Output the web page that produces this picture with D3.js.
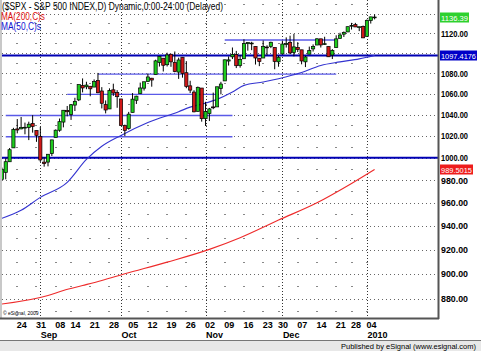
<!DOCTYPE html>
<html>
<head>
<meta charset="utf-8">
<script src="https://cdn.jsdelivr.net/npm/d3@7"></script>
<style>
  body { margin: 0; background: #fff; }
  svg { display: block; font-family: "Liberation Sans", Arial, sans-serif; }
</style>
</head>
<body>
<script>
'use strict';

// trading days shown on the chart
const dates = [
  "2009-08-18","2009-08-19","2009-08-20","2009-08-21","2009-08-24","2009-08-25","2009-08-26","2009-08-27","2009-08-28","2009-08-31",
  "2009-09-01","2009-09-02","2009-09-03","2009-09-04","2009-09-08","2009-09-09","2009-09-10","2009-09-11","2009-09-14","2009-09-15",
  "2009-09-16","2009-09-17","2009-09-18","2009-09-21","2009-09-22","2009-09-23","2009-09-24","2009-09-25","2009-09-28","2009-09-29",
  "2009-09-30","2009-10-01","2009-10-02","2009-10-05","2009-10-06","2009-10-07","2009-10-08","2009-10-09","2009-10-12","2009-10-13",
  "2009-10-14","2009-10-15","2009-10-16","2009-10-19","2009-10-20","2009-10-21","2009-10-22","2009-10-23","2009-10-26","2009-10-27",
  "2009-10-28","2009-10-29","2009-10-30","2009-11-02","2009-11-03","2009-11-04","2009-11-05","2009-11-06","2009-11-09","2009-11-10",
  "2009-11-11","2009-11-12","2009-11-13","2009-11-16","2009-11-17","2009-11-18","2009-11-19","2009-11-20","2009-11-23","2009-11-24",
  "2009-11-25","2009-11-27","2009-11-30","2009-12-01","2009-12-02","2009-12-03","2009-12-04","2009-12-07","2009-12-08","2009-12-09",
  "2009-12-10","2009-12-11","2009-12-14","2009-12-15","2009-12-16","2009-12-17","2009-12-18","2009-12-21","2009-12-22","2009-12-23",
  "2009-12-24","2009-12-28","2009-12-29","2009-12-30","2009-12-31","2010-01-04","2010-01-05","2010-01-06"
];

const open = [
  980.62,986.88,996.41,1009.06,1026.59,1026.63,1027.35,1027.81,1031.62,1025.21,
  1019.52,996.07,996.12,1003.84,1018.67,1025.36,1032.99,1043.92,1040.15,1049.03,
  1053.99,1067.87,1066.60,1067.14,1066.35,1072.69,1062.56,1049.48,1045.38,1063.69,
  1061.02,1054.91,1029.71,1026.87,1042.02,1053.65,1060.03,1065.28,1071.63,1074.96,
  1078.68,1090.36,1094.67,1088.22,1098.64,1090.36,1080.96,1095.62,1080.36,1067.54,
  1061.51,1043.00,1065.41,1036.18,1040.92,1047.30,1047.30,1064.95,1072.31,1091.86,
  1096.04,1098.31,1087.59,1094.13,1109.22,1109.44,1106.44,1094.66,1094.86,1105.83,
  1106.49,1105.47,1091.07,1098.89,1109.03,1110.59,1100.43,1105.52,1103.04,1091.07,
  1098.69,1103.96,1107.84,1114.11,1108.61,1106.36,1097.86,1105.31,1114.51,1118.84,
  1121.08,1127.53,1128.55,1125.53,1126.60,1116.56,1132.66,1135.71
];
const high = [
  991.20,999.61,1008.92,1027.59,1035.82,1037.75,1032.47,1033.33,1039.47,1025.21,
  1028.45,1000.34,1003.43,1016.48,1026.07,1036.34,1044.14,1048.18,1049.74,1056.04,
  1068.76,1074.77,1071.52,1067.28,1073.81,1080.15,1066.29,1053.47,1065.13,1069.62,
  1063.40,1054.91,1030.60,1042.58,1060.55,1058.02,1070.67,1071.51,1079.46,1075.30,
  1093.17,1096.56,1094.67,1100.17,1098.64,1101.36,1095.21,1095.83,1091.75,1072.48,
  1063.26,1066.83,1065.41,1052.18,1046.36,1061.00,1066.65,1071.48,1093.19,1096.42,
  1105.37,1101.97,1097.79,1113.69,1110.52,1111.10,1106.44,1094.66,1112.38,1107.56,
  1111.18,1105.47,1097.24,1112.28,1115.58,1117.28,1119.13,1110.72,1103.04,1097.04,
  1106.25,1108.50,1114.76,1114.11,1116.21,1106.36,1103.74,1117.68,1120.27,1121.58,
  1126.48,1130.38,1130.38,1126.42,1127.64,1133.87,1136.63,1139.19
];
const low = [
  980.62,980.62,996.39,1009.06,1022.48,1026.21,1021.57,1016.20,1023.13,1014.62,
  996.28,991.97,992.25,1001.65,1018.67,1023.97,1028.04,1038.40,1035.00,1043.42,
  1052.87,1061.20,1064.27,1057.46,1066.35,1060.39,1045.85,1041.17,1045.38,1057.83,
  1046.47,1029.45,1019.95,1025.92,1042.02,1050.10,1060.03,1063.00,1071.63,1066.71,
  1078.68,1086.41,1081.53,1086.48,1086.16,1080.77,1074.31,1075.49,1065.23,1060.62,
  1042.19,1043.00,1033.38,1029.38,1033.94,1045.15,1047.30,1059.32,1072.31,1087.40,
  1093.81,1084.90,1085.33,1094.13,1102.19,1102.70,1088.40,1086.81,1094.86,1097.63,
  1104.75,1083.74,1086.25,1098.89,1105.29,1098.74,1096.52,1100.83,1088.61,1085.89,
  1098.69,1101.34,1107.84,1105.35,1107.96,1095.88,1093.88,1105.31,1114.51,1116.00,
  1121.08,1123.51,1126.08,1121.94,1114.81,1116.56,1129.66,1133.95
];
const close = [
  989.67,996.46,1007.37,1026.13,1025.57,1028.00,1028.12,1030.98,1028.93,1020.62,
  998.04,994.75,1003.24,1016.40,1025.39,1033.37,1044.14,1042.73,1049.34,1052.63,
  1068.76,1065.49,1068.30,1064.66,1071.66,1060.87,1050.78,1044.38,1062.98,1060.61,
  1057.08,1029.85,1025.21,1040.46,1054.72,1057.58,1065.48,1071.49,1076.19,1073.19,
  1092.02,1096.56,1087.68,1097.91,1091.06,1081.40,1092.91,1079.60,1066.95,1063.41,
  1042.63,1066.11,1036.19,1042.88,1045.41,1046.50,1066.63,1069.30,1093.08,1093.01,
  1098.51,1087.24,1093.48,1109.30,1110.32,1109.80,1094.90,1091.38,1106.24,1105.65,
  1110.63,1091.49,1095.63,1108.86,1109.24,1099.92,1105.98,1103.25,1091.94,1095.95,
  1102.35,1106.41,1114.11,1107.93,1109.18,1096.08,1102.47,1114.05,1118.02,1120.59,
  1126.48,1127.78,1126.20,1126.42,1115.10,1132.99,1136.52,1136.39
];

// moving averages
const ma50Dates = ["2009-08-18","2009-08-25","2009-09-01","2009-09-11","2009-09-18","2009-09-24","2009-10-01",
  "2009-10-12","2009-10-22","2009-10-27","2009-11-02","2009-11-05","2009-11-11","2009-11-16","2009-11-23",
  "2009-11-30","2009-12-08","2009-12-15","2009-12-22","2009-12-30","2010-01-06"];
const ma50Values = [946.5,953.4,964.7,978.0,998.5,1010.5,1020.5,1032.5,1042.8,1047.1,1050.9,1054.5,1061.5,
  1068.0,1071.3,1074.5,1080.5,1087.5,1091.0,1094.0,1097.4];

const ma200Dates = ["2009-08-18","2009-09-03","2009-09-10","2009-09-17","2009-09-24","2009-10-02","2009-10-19",
  "2009-11-03","2009-11-13","2009-11-30","2009-12-14","2009-12-28","2010-01-06"];
const ma200Values = [875.6,882.4,886.5,890.5,894.6,900.0,909.6,920.2,930.0,945.0,960.0,977.0,989.5];

// horizontal lines drawn on the chart (null = across the whole plot)
const lineValues = [1112.9, 1097.4, 1079.0, 1059.3, 1039.2, 1019.3, 1000.0];
const lineFrom   = ["2009-11-09", null, "2009-09-23", "2009-09-11", "2009-08-19", "2009-08-19", null];
const lineTo     = ["2009-12-21", null, "2009-12-21", "2009-11-05", "2009-11-11", "2009-11-11", null];

// axis labels
const weekDates  = ["2009-08-24","2009-08-31","2009-09-08","2009-09-14","2009-09-21","2009-09-28","2009-10-05",
  "2009-10-12","2009-10-19","2009-10-26","2009-11-02","2009-11-09","2009-11-16","2009-11-23","2009-11-30",
  "2009-12-07","2009-12-14","2009-12-21","2009-12-28","2010-01-04"];
const weekLabels = ["24","31","08","14","21","28","05","12","19","26","02","09","16","23","30","07","14","21","28","04"];
const monthDates  = ["2009-09-01","2009-10-01","2009-11-02","2009-12-01","2010-01-04"];
const monthLabels = ["Sep","Oct","Nov","Dec","2010"];
const priceTicks = [880,900,920,940,960,980,1000,1020,1040,1060,1080,1100,1120,1140];
const minorTicks = [870,890,910,930,950,970,990,1010,1030,1050,1070,1090,1110,1130,1150];

const lastPrice = 1136.39, ma50Last = 1097.4176, ma200Last = 989.5015;

const W = 481, H = 351;
const plotL = 2, plotR = 438, plotT = 0, plotB = 318;

const svg = d3.select("body").append("svg").attr("width", W).attr("height", H);

const idx = d => dates.indexOf(d);
const x = d3.scaleLinear().domain([0, dates.length - 1]).range([1.9, 374.6]);
const y = d3.scaleLog().domain([864.6, 1152]).range([plotB, 2]);

svg.append("rect").attr("width", W).attr("height", H).attr("fill", "#fff");

svg.append("defs").append("clipPath").attr("id", "clip")
  .append("rect").attr("x", plotL).attr("y", plotT).attr("width", plotR - plotL).attr("height", plotB - plotT);

const plot = svg.append("g").attr("clip-path", "url(#clip)");

// grid
plot.selectAll(".hgrid").data(priceTicks).enter().append("line")
  .attr("x1", plotL).attr("x2", plotR)
  .attr("y1", d => Math.round(y(d)) + 0.5).attr("y2", d => Math.round(y(d)) + 0.5)
  .style("stroke", "#666").style("stroke-dasharray", "1,3");

plot.selectAll(".vgrid").data(monthDates).enter().append("line")
  .attr("x1", d => Math.round(x(idx(d))) + 0.5).attr("x2", d => Math.round(x(idx(d))) + 0.5)
  .attr("y1", plotT).attr("y2", plotB)
  .style("stroke", "#333").style("stroke-dasharray", "1,2");

const dots = [];
minorTicks.forEach(v => weekDates.forEach(d => dots.push([d, v])));
plot.selectAll(".dot").data(dots).enter().append("rect")
  .attr("x", d => Math.round(x(idx(d[0]))) - 1).attr("y", d => Math.round(y(d[1])))
  .attr("width", 2).attr("height", 1).style("fill", "#888");

// drawn horizontal lines
lineValues.forEach((v, i) => {
  const full = lineFrom[i] === null;
  plot.append("line")
    .attr("x1", full ? plotL : x(idx(lineFrom[i])))
    .attr("x2", full ? plotR : x(idx(lineTo[i])))
    .attr("y1", y(v)).attr("y2", y(v))
    .style("stroke", full ? "#0000b4" : "#5a5ae8")
    .style("stroke-width", full ? 2 : 1.4);
});

// moving averages
const maLine = (ds, vs) => d3.line().curve(d3.curveMonotoneX)
  .x((d, i) => x(idx(ds[i]))).y((d, i) => y(vs[i]))(vs);

plot.append("path").attr("d", maLine(ma200Dates, ma200Values))
  .style("fill", "none").style("stroke", "#ee2a2a").style("stroke-width", 1.1);
plot.append("path").attr("d", maLine(ma50Dates, ma50Values))
  .style("fill", "none").style("stroke", "#3434d0").style("stroke-width", 1.1);

// candles
const candles = plot.selectAll(".candle").data(dates).enter().append("g");
candles.append("line")
  .attr("x1", (d, i) => x(i)).attr("x2", (d, i) => x(i))
  .attr("y1", (d, i) => y(high[i])).attr("y2", (d, i) => y(low[i]))
  .style("stroke", "#000").style("stroke-width", 1);
candles.append("rect")
  .attr("x", (d, i) => x(i) - 1.6).attr("width", 3.2)
  .attr("y", (d, i) => y(Math.max(open[i], close[i])))
  .attr("height", (d, i) => Math.max(0.8, y(Math.min(open[i], close[i])) - y(Math.max(open[i], close[i]))))
  .style("fill", (d, i) => close[i] >= open[i] ? "#1ecb1e" : "#d01818")
  .style("stroke", "#000").style("stroke-width", 0.7);

// frame
svg.append("rect").attr("x", 0).attr("y", 0).attr("width", 2).attr("height", plotB).attr("fill", "#c8c8c8");
svg.append("line").attr("x1", plotR + 0.5).attr("x2", plotR + 0.5).attr("y1", 0).attr("y2", plotB + 1)
  .style("stroke", "#555").style("stroke-width", 2);
svg.append("line").attr("x1", 0).attr("x2", plotR + 1).attr("y1", plotB + 0.5).attr("y2", plotB + 0.5)
  .style("stroke", "#555").style("stroke-width", 2);

// title and legend
svg.append("text").attr("x", 2).attr("y", 10).attr("textLength", 221).attr("lengthAdjust", "spacingAndGlyphs")
  .style("font-size", "10px").style("fill", "#000").text("($SPX - S&P 500 INDEX,D) Dynamic,0:00-24:00 (Delayed)");
svg.append("text").attr("x", 1).attr("y", 20).attr("textLength", 44).attr("lengthAdjust", "spacingAndGlyphs")
  .style("font-size", "10px").style("fill", "#e01010").text("MA(200,C)s");
svg.append("text").attr("x", 1).attr("y", 30).attr("textLength", 40).attr("lengthAdjust", "spacingAndGlyphs")
  .style("font-size", "10px").style("fill", "#1010d0").text("MA(50,C)s");
svg.append("text").attr("x", 3).attr("y", 315).style("font-size", "5px").style("fill", "#000").text("© eSignal, 2009");

// right price axis
const boxes = [[lastPrice, "#2ed12e", 29], [ma50Last, "#0000c8", 37], [ma200Last, "#ee1c1c", 33]];
const fmt = d3.format(".2f");
svg.selectAll(".ylab").data(priceTicks.filter(v => boxes.every(b => Math.abs(y(v) - y(b[0])) > 8)))
  .enter().append("text")
  .attr("x", 441).attr("y", d => y(d) + 3.5)
  .attr("textLength", 27).attr("lengthAdjust", "spacingAndGlyphs")
  .style("font-size", "9px").style("font-weight", "bold").style("fill", "#000").text(d => fmt(d));

boxes.forEach(b => {
  const yy = y(b[0]);
  svg.append("rect").attr("x", 440).attr("y", Math.round(yy) - 4.5).attr("width", b[2]).attr("height", 10).attr("fill", b[1]);
  svg.append("text").attr("x", 441).attr("y", Math.round(yy) + 3.5)
    .attr("textLength", b[2] - 2).attr("lengthAdjust", "spacingAndGlyphs")
    .style("font-size", "8px").style("fill", "#fff")
    .text(b[0] === lastPrice ? fmt(b[0]) : d3.format(".4f")(b[0]));
});

// date axis
svg.selectAll(".xlab").data(weekDates).enter().append("text")
  .attr("x", d => x(idx(d)) - 0.5).attr("y", 327.5)
  .style("font-size", "9px").style("font-weight", "bold").style("fill", "#000")
  .text((d, i) => weekLabels[i]);
svg.selectAll(".mlab").data(monthDates).enter().append("text")
  .attr("x", d => x(idx(d)) + 0.5).attr("y", 338)
  .style("font-size", "9px").style("font-weight", "bold").style("fill", "#000")
  .text((d, i) => monthLabels[i]);

// footer
svg.append("rect").attr("x", 0).attr("y", 340).attr("width", W).attr("height", H - 340).attr("fill", "#e8e8e8");
svg.append("line").attr("x1", 0).attr("x2", W).attr("y1", 340.5).attr("y2", 340.5).style("stroke", "#777");
svg.append("text").attr("x", 476).attr("y", 348.5).attr("text-anchor", "end")
  .attr("textLength", 135).attr("lengthAdjust", "spacingAndGlyphs")
  .style("font-size", "7.5px").style("fill", "#000").text("Published by eSignal (www.esignal.com)");
</script>
</body>
</html>
